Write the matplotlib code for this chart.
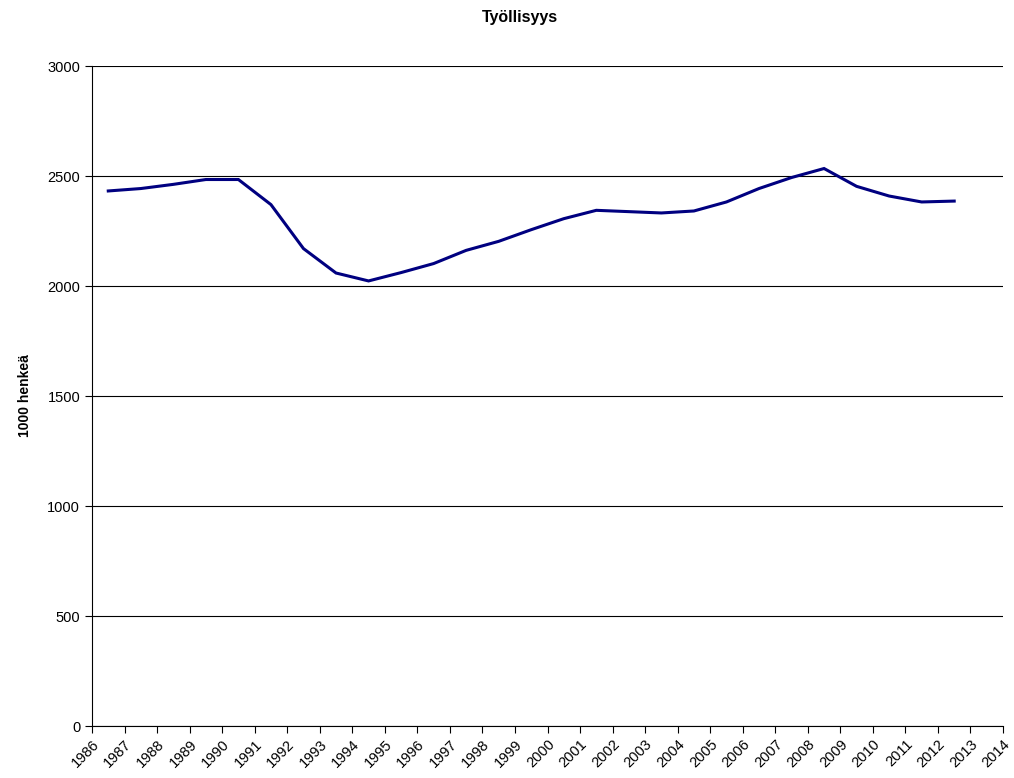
import numpy as np
import matplotlib
matplotlib.use("Agg")
import matplotlib.pyplot as plt

plt.rcParams['font.family'] = ['Liberation Sans', 'DejaVu Sans']

# Työllisyys, 1000 henkeä
years = list(range(1986, 2013))
employed = [2432, 2443, 2462, 2484, 2484, 2370, 2170, 2059, 2023, 2061,
            2102, 2162, 2203, 2256, 2306, 2344, 2338, 2332, 2341, 2382,
            2443, 2493, 2534, 2453, 2409, 2382, 2386]
tick_years = list(range(1986, 2015))
y_ticks = [0, 500, 1000, 1500, 2000, 2500, 3000]

fig = plt.figure(figsize=(10.14, 7.78), dpi=100)
ax = fig.add_axes([92 / 1014, 52 / 778, 911 / 1014, 660 / 778])

# points sit in the middle of each year slot, like the Excel category axis
x = np.array(years) + 0.5
ax.plot(x, employed, color='#000080', linewidth=2.2, solid_joinstyle='miter')

ax.set_xlim(1986, 2014)
ax.set_ylim(0, 3000)
ax.set_yticks(y_ticks)
ax.set_xticks(tick_years)
ax.set_xticklabels([str(y) for y in tick_years], rotation=45, ha='right',
                   rotation_mode='anchor', fontsize=10.5)
ax.tick_params(axis='y', labelsize=10.5, length=5, width=0.8, direction='out')
ax.tick_params(axis='x', length=5, width=0.8, direction='out', pad=3)

ax.yaxis.grid(True, color='black', linewidth=0.8)
ax.set_axisbelow(True)
for side in ['top', 'right']:
    ax.spines[side].set_visible(False)
for side in ['left', 'bottom']:
    ax.spines[side].set_linewidth(0.8)

ax.set_ylabel('1000 henkeä', fontsize=10, fontweight='bold', labelpad=11)
fig.text(0.513, 0.978, 'Työllisyys', ha='center', va='center',
         fontsize=11.5, fontweight='bold')

fig.savefig('out.png', dpi=100)
